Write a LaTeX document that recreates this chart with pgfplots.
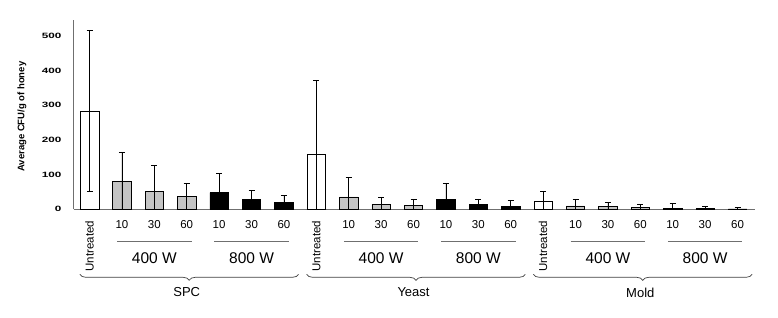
\documentclass[border=0pt]{standalone}
\usepackage{pgfplots}
\pgfplotsset{compat=1.18}
\usepackage{fontspec}
\setmainfont{Liberation Sans}
\usetikzlibrary{decorations.pathreplacing}
\definecolor{barg}{HTML}{C4C4C4}
\definecolor{axg}{HTML}{6F6F6F}
\begin{document}
\begin{tikzpicture}
\useasboundingbox (-74pt,-107.7pt) rectangle (704pt,209.3pt);
\begin{axis}[
  scale only axis, width=681pt, height=189pt,
  at={(0,0)}, anchor=south west,
  xmin=-0.48, xmax=20.54, ymin=0, ymax=545,
  axis x line=bottom, axis y line=left,
  axis line style={-, draw=axg, line width=1pt},
  ytick={0,100,200,300,400,500},
  xtick={0,...,20},
  major tick length=0pt,
  xticklabels={\rotatebox{90}{Untreated},10,30,60,10,30,60,\rotatebox{90}{Untreated},10,30,60,10,30,60,\rotatebox{90}{Untreated},10,30,60,10,30,60},
  xticklabel style={font=\fontsize{11.5}{12}\selectfont, yshift=-8pt},
  yticklabel={\scalebox{1.3}[0.85]{\bfseries\pgfmathprintnumber[assume math mode=true]{\tick}}},
  yticklabel style={font=\fontsize{9}{10}\selectfont, xshift=-9pt},
  ylabel={\bfseries Average CFU/g of honey},
  ylabel style={font=\fontsize{9.5}{10}\selectfont, at={(axis description cs:-0.0764,0.49)}, anchor=center},
  clip=false,
  ybar, bar width=18.5pt,
  error bars/y dir=both, error bars/y explicit,
  error bars/error bar style={black, line width=0.6pt},
  error bars/error mark options={rotate=90, mark size=3pt, black, line width=0.6pt},
]
% Untreated
\addplot[bar shift=0pt, fill=white, draw=black, line width=0.6pt] coordinates {
 (0,284) += (0,231) -= (0,231)
 (7,159) += (0,213) -= (0,159)
 (14,24) += (0,28) -= (0,24)
};
% 400 W
\addplot[bar shift=0pt, fill=barg, draw=black, line width=0.6pt] coordinates {
 (1,81.5) += (0,84) -= (0,81.5)
 (2,52) += (0,75) -= (0,52)
 (3,37.5) += (0,37.5) -= (0,37.5)
 (8,36) += (0,56) -= (0,36)
 (9,14) += (0,22) -= (0,14)
 (10,11.5) += (0,16.5) -= (0,11.5)
 (15,10) += (0,18) -= (0,10)
 (16,8) += (0,13) -= (0,8)
 (17,6) += (0,9) -= (0,6)
};
% 800 W
\addplot[bar shift=0pt, fill=black, draw=black, line width=0.6pt] coordinates {
 (4,48) += (0,56) -= (0,48)
 (5,27.7) += (0,26.3) -= (0,27.7)
 (6,20) += (0,19) -= (0,20)
 (11,28) += (0,46) -= (0,28)
 (12,14.5) += (0,15.5) -= (0,14.5)
 (13,9.5) += (0,16.5) -= (0,9.5)
 (18,3.5) += (0,12.5) -= (0,3.5)
 (19,1.5) += (0,7.5) -= (0,1.5)
 (20,1) += (0,3.5) -= (0,1)
};
\foreach \g/\name in {0/SPC,7/Yeast,14/Mold}{
  \pgfmathsetmacro{\a}{\g+0.85}\pgfmathsetmacro{\b}{\g+3.15}
  \pgfmathsetmacro{\c}{\g+3.85}\pgfmathsetmacro{\d}{\g+6.15}
  \pgfmathsetmacro{\e}{\g+2}\pgfmathsetmacro{\f}{\g+5}
  \pgfmathsetmacro{\bl}{\g-0.3}\pgfmathsetmacro{\br}{\g+6.45}
  \pgfmathsetmacro{\m}{\g+3}
  \edef\temp{\noexpand\draw[axg, line width=1pt, yshift=-31.7pt] (axis cs:\a,0) -- (axis cs:\b,0);
    \noexpand\draw[axg, line width=1pt, yshift=-31.7pt] (axis cs:\c,0) -- (axis cs:\d,0);
    \noexpand\node[font=\noexpand\fontsize{15.5}{16}\noexpand\selectfont, yshift=-48.7pt] at (axis cs:\e,0) {400 W};
    \noexpand\node[font=\noexpand\fontsize{15.5}{16}\noexpand\selectfont, yshift=-48.7pt] at (axis cs:\f,0) {800 W};
    \noexpand\draw[black!75, line width=0.7pt, decorate, decoration={brace, mirror, amplitude=6pt}, yshift=-65pt] (axis cs:\bl,0) -- (axis cs:\br,0);
    \noexpand\node[font=\noexpand\fontsize{13}{14}\noexpand\selectfont, yshift=-83.2pt] at (axis cs:\m,0) {\name};}
  \temp
}
\end{axis}
\end{tikzpicture}
\end{document}
